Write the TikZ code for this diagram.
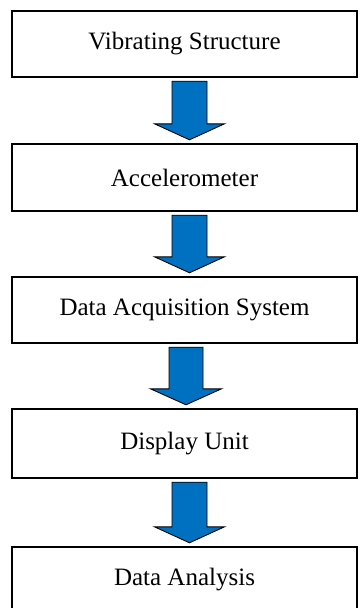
\documentclass[tikz,border=0pt]{standalone}
\usepackage{fontspec}
\setmainfont{Liberation Serif}
\usetikzlibrary{calc}
\definecolor{arrblue}{RGB}{0,112,192}
\tikzset{
  box/.style={draw=black, line width=2.4pt, minimum width=345pt, minimum height=66pt,
    inner sep=0pt, font=\fontsize{25}{30}\selectfont},
  blockarr/.style={draw=black, line width=0.9pt, fill=arrblue, line join=miter}
}
\newcommand{\blockarrow}[5]{% from, to, x offset, shaft half, head half
  \coordinate (s-#1) at ($(#1.south)+(#3,3)$);
  \coordinate (t-#1) at ($(#2.north)+(#3,-3)$);
  \draw[blockarr] ($(s-#1)+(-#4,0)$) -- ($(s-#1)+(#4,0)$)
    -- ($(t-#1)+(#4,-16)$) -- ($(t-#1)+(#5,-16)$) -- (t-#1)
    -- ($(t-#1)+(-#5,-16)$) -- ($(t-#1)+(-#4,-16)$) -- cycle;
}
\begin{document}
\begin{tikzpicture}[x=1pt,y=-1pt]
\useasboundingbox (0,0) rectangle (362,608);
\node[box] (b1) at (184.5,44) {Vibrating Structure};
\node[box, minimum height=67pt] (b2) at (184.5,177.5) {Accelerometer};
\node[box] (b3) at (184.5,310) {Data Acquisition System};
\node[box, minimum height=69pt] (b4) at (184.5,443.5) {Display Unit};
\node[box] (b5) at (184.5,580) {Data Analysis};
\blockarrow{b1}{b2}{5}{17.5}{35}
\blockarrow{b2}{b3}{5}{17.5}{35}
\blockarrow{b3}{b4}{1.5}{17}{35.5}
\blockarrow{b4}{b5}{5}{17.5}{35}
\end{tikzpicture}
\end{document}
